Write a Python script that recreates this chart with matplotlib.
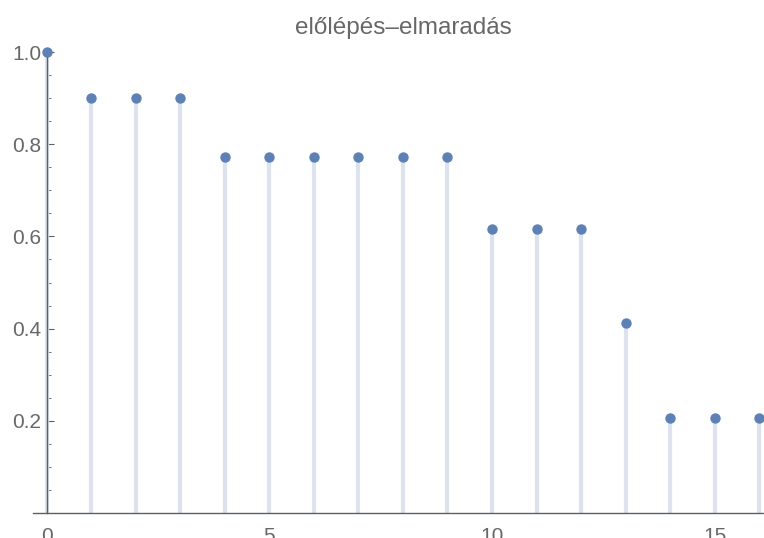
import matplotlib
matplotlib.use("Agg")
import matplotlib.pyplot as plt
from matplotlib.ticker import MultipleLocator, FixedLocator

plt.rcParams['font.family'] = ['Liberation Sans', 'DejaVu Sans']

steps = list(range(17))
values = [1.0, 0.9, 0.9, 0.9, 0.772, 0.772, 0.772, 0.772, 0.772, 0.772,
          0.617, 0.617, 0.617, 0.412, 0.206, 0.206, 0.206]
title = "előlépés–elmaradás"
x_ticks = [0, 5, 10, 15]
y_ticks = [0.2, 0.4, 0.6, 0.8, 1.0]

stem_color = "#dce3ee"
point_color = "#5e81b5"
text_color = "#686868"
axis_color = "#5a5f68"

fig = plt.figure(figsize=(7.64, 5.38), dpi=100)
ax = fig.add_axes([33 / 764, 25 / 538, 731 / 764, 461 / 538])

ax.vlines(steps, 0, values, colors=stem_color, linewidth=3, zorder=2)
ax.scatter(steps, values, s=42, color=point_color, zorder=4, clip_on=False)

ax.set_xlim(-0.31, 16.11)
ax.set_ylim(0, 1.0)

for side in ("top", "right"):
    ax.spines[side].set_visible(False)
ax.spines["left"].set_position(("data", 0))
ax.spines["bottom"].set_position(("data", 0))
for side in ("left", "bottom"):
    ax.spines[side].set_color(axis_color)
    ax.spines[side].set_linewidth(1.0)
    ax.spines[side].set_zorder(3)

ax.xaxis.set_major_locator(FixedLocator(x_ticks))
ax.xaxis.set_minor_locator(MultipleLocator(1))
ax.yaxis.set_major_locator(FixedLocator(y_ticks))
ax.yaxis.set_minor_locator(MultipleLocator(0.05))

ax.tick_params(axis="both", which="major", direction="in", length=5, width=0.8,
               color=axis_color, labelcolor=text_color, labelsize=15)
ax.tick_params(axis="both", which="minor", direction="in", length=3, width=0.6,
               color=axis_color)
ax.tick_params(axis="x", which="major", pad=10)
ax.tick_params(axis="y", which="major", pad=4)
ax.set_yticklabels(["0.2", "0.4", "0.6", "0.8", "1.0"])

fig.text(403 / 764, 1 - 28 / 538, title, ha="center", va="center",
         fontsize=17.5, color=text_color)

fig.savefig("out.png", dpi=100)
